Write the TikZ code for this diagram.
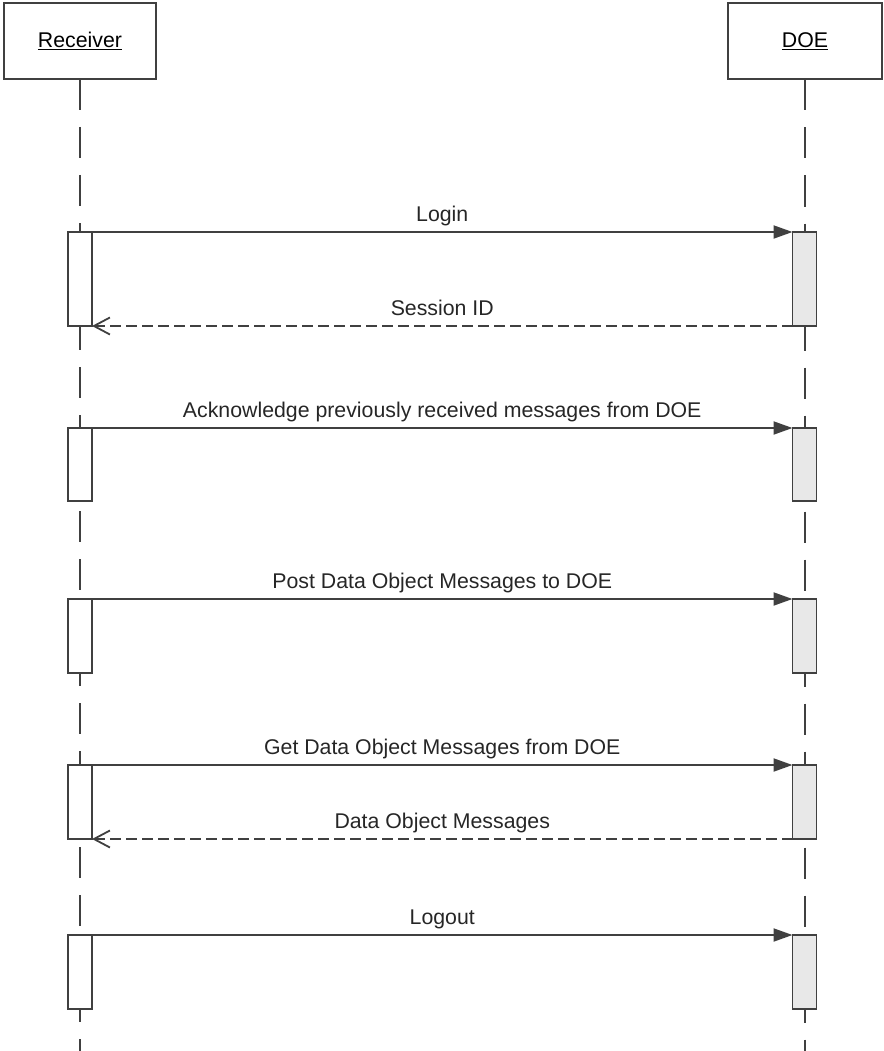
\documentclass[tikz,border=0pt]{standalone}
\usepackage{fontspec}
\setmainfont{Liberation Sans}
\usetikzlibrary{arrows.meta}
\definecolor{linegray}{RGB}{64,64,64}
\definecolor{actgray}{RGB}{232,232,232}

\begin{document}
\begin{tikzpicture}[x=1pt,y=-1pt,
    font=\fontsize{21.3}{25}\selectfont,
    head/.style={draw=linegray,line width=2pt,fill=white,minimum width=152pt,minimum height=76pt,inner sep=0pt,outer sep=0pt},
    lifeline/.style={draw=linegray,line width=1.8pt,dash pattern=on 31pt off 17pt},
    actR/.style={draw=linegray,line width=1.8pt,fill=white,minimum width=24pt,inner sep=0pt,outer sep=0pt,anchor=north},
    actD/.style={actR,fill=actgray},
    call/.style={draw=linegray,line width=2pt,-{Triangle[length=19pt,width=13pt]}},
    reply/.style={draw=linegray,line width=1.8pt,dash pattern=on 11pt off 5pt,-{Straight Barb[length=16pt,width=17pt]}},
    lbl/.style={midway,anchor=base,yshift=11pt,text=black!85}]

    \useasboundingbox (0,0) rectangle (883,1051);

    % Kopfkaesten der beiden Teilnehmer
    \node[head] (rcv) at (80,41) {\underline{Receiver}};
    \node[head,minimum width=154pt] (doe) at (805,41.5) {\underline{DOE}};

    % Lebenslinien
    \coordinate (rcvEnd) at (80,1051);
    \coordinate (doeEnd) at (805,1051);
    \draw[lifeline] (rcv.south) -- (rcvEnd);
    \draw[lifeline] (doe.south) -- (doeEnd);

    % Aktivierungsbalken Receiver
    \node[actR,minimum height=94pt] (r1) at (80,232) {};
    \node[actR,minimum height=73pt] (r2) at (80,428) {};
    \node[actR,minimum height=74pt] (r3) at (80,599) {};
    \node[actR,minimum height=74pt] (r4) at (80,765) {};
    \node[actR,minimum height=74pt] (r5) at (80,935) {};

    % Aktivierungsbalken DOE
    \node[actD,minimum height=94pt] (d1) at (804.5,232) {};
    \node[actD,minimum height=73pt] (d2) at (804.5,428) {};
    \node[actD,minimum height=74pt] (d3) at (804.5,599) {};
    \node[actD,minimum height=74pt] (d4) at (804.5,765) {};
    \node[actD,minimum height=74pt] (d5) at (804.5,935) {};

    % Nachrichten
    \draw[call] (r1.north east) -- (d1.north west) node[lbl] {Login};
    \draw[reply] (d1.south west) -- (r1.south east) node[lbl] {Session ID};

    \draw[call] (r2.north east) -- (d2.north west) node[lbl] {Acknowledge previously received messages from DOE};

    \draw[call] (r3.north east) -- (d3.north west) node[lbl] {Post Data Object Messages to DOE};

    \draw[call] (r4.north east) -- (d4.north west) node[lbl] {Get Data Object Messages from DOE};
    \draw[reply] (d4.south west) -- (r4.south east) node[lbl] {Data Object Messages};

    \draw[call] (r5.north east) -- (d5.north west) node[lbl] {Logout};

\end{tikzpicture}
\end{document}
